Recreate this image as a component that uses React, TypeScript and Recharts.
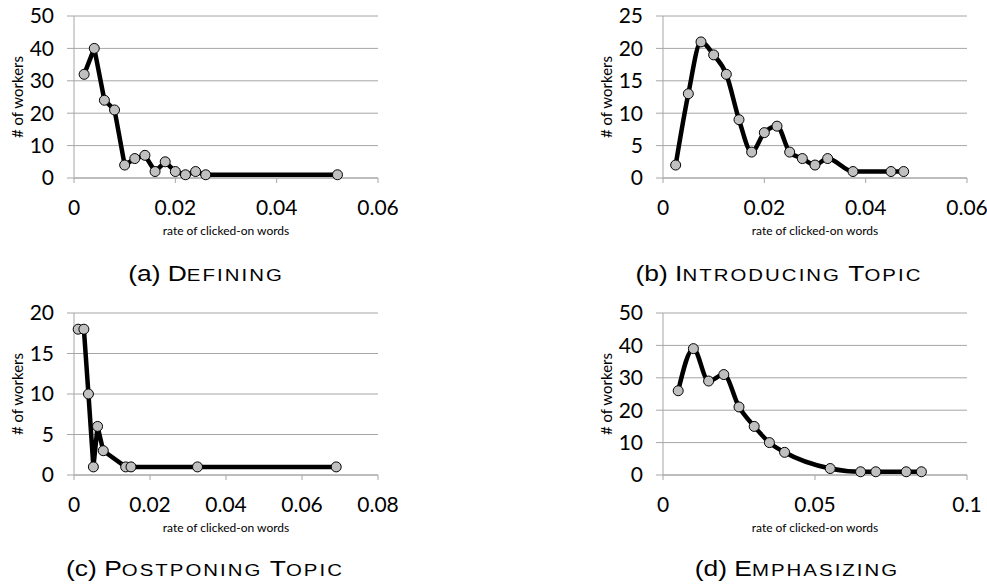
import React from 'react';
import { LineChart, Line, XAxis, YAxis, CartesianGrid } from 'recharts';

// (a) Defining
const defX = [0.002, 0.004, 0.006, 0.008, 0.010, 0.012, 0.014, 0.016, 0.018, 0.020, 0.022, 0.024, 0.026, 0.052];
const defY = [32, 40, 24, 21, 4, 6, 7, 2, 5, 2, 1, 2, 1, 1];
const defXTicks = [0, 0.02, 0.04, 0.06];
const defYTicks = [0, 10, 20, 30, 40, 50];

// (b) Introducing topic
const introX = [0.0025, 0.005, 0.0075, 0.010, 0.0125, 0.015, 0.0175, 0.020, 0.0225, 0.025, 0.0275, 0.030, 0.0325, 0.0375, 0.045, 0.0475];
const introY = [2, 13, 21, 19, 16, 9, 4, 7, 8, 4, 3, 2, 3, 1, 1, 1];
const introXTicks = [0, 0.02, 0.04, 0.06];
const introYTicks = [0, 5, 10, 15, 20, 25];

// (c) Postponing topic
const postX = [0.0011, 0.0026, 0.0038, 0.0051, 0.0062, 0.0077, 0.0136, 0.015, 0.0325, 0.069];
const postY = [18, 18, 10, 1, 6, 3, 1, 1, 1, 1];
const postXTicks = [0, 0.02, 0.04, 0.06, 0.08];
const postYTicks = [0, 5, 10, 15, 20];

// (d) Emphasizing
const empX = [0.005, 0.010, 0.015, 0.020, 0.025, 0.030, 0.035, 0.040, 0.055, 0.065, 0.070, 0.080, 0.085];
const empY = [26, 39, 29, 31, 21, 15, 10, 7, 2, 1, 1, 1, 1];
const empXTicks = [0, 0.05, 0.1];
const empYTicks = [0, 10, 20, 30, 40, 50];

const xTitle = 'rate of clicked-on words';
const yTitle = '# of workers';

const AXIS = '#a6a6a6';
const NUM_FONT = 'Lato, "Open Sans", sans-serif';

type PanelProps = {
  xs: number[];
  ys: number[];
  xTicks: number[];
  yTicks: number[];
  curve: 'linear' | 'monotone';
  left: number;
  top: number;
};

const W = 398;
const H = 245;

function Panel({ xs, ys, xTicks, yTicks, curve, left, top }: PanelProps) {
  const data = xs.map((x, i) => ({ x, y: ys[i] }));
  const xMax = xTicks[xTicks.length - 1];
  const yMax = yTicks[yTicks.length - 1];
  const yLabel = (props: any) => {
    const vb = props.viewBox || {};
    const cx = vb.x + 3;
    const cy = vb.y + vb.height / 2;
    return (
      <text
        x={cx}
        y={cy}
        transform={`rotate(-90, ${cx}, ${cy})`}
        textAnchor="middle"
        dominantBaseline="central"
        fontFamily={NUM_FONT}
        fontSize={15}
        fill="#000"
      >
        {yTitle}
      </text>
    );
  };
  const xLabel = (props: any) => {
    const vb = props.viewBox || {};
    return (
      <text
        x={vb.x + vb.width / 2}
        y={vb.y + 57}
        textAnchor="middle"
        fontFamily={NUM_FONT}
        fontSize={12}
        fill="#000"
      >
        {xTitle}
      </text>
    );
  };
  return (
    <div style={{ position: 'absolute', left, top, width: W, height: H }}>
      <LineChart width={W} height={H} data={data} margin={{ top: 16, right: 20, bottom: 7, left: 14 }}>
        <CartesianGrid vertical={false} stroke={AXIS} strokeWidth={1} />
        <XAxis
          type="number"
          dataKey="x"
          domain={[0, xMax]}
          ticks={xTicks}
          interval={0}
          height={60}
          tickSize={5}
          tickMargin={17}
          axisLine={{ stroke: AXIS }}
          tickLine={{ stroke: AXIS }}
          tick={{ fontFamily: NUM_FONT, fontSize: 21, fill: '#000' }}
          label={xLabel}
        />
        <YAxis
          type="number"
          domain={[0, yMax]}
          ticks={yTicks}
          interval={0}
          width={60}
          tickSize={7}
          tickMargin={13}
          axisLine={{ stroke: AXIS }}
          tickLine={{ stroke: AXIS }}
          tick={{ fontFamily: NUM_FONT, fontSize: 21, fill: '#000' }}
          label={yLabel}
        />
        <Line
          type={curve}
          dataKey="y"
          stroke="#000"
          strokeWidth={4.5}
          strokeLinejoin="round"
          dot={{ r: 5, fill: '#c0c0c0', stroke: '#000', strokeWidth: 1 }}
          isAnimationActive={false}
        />
      </LineChart>
    </div>
  );
}

const captions = [
  { label: '(a) ', parts: [['D', 'EFINING']], cx: 206, y: 281 },
  { label: '(b) ', parts: [['I', 'NTRODUCING'], ['T', 'OPIC']], cx: 779, y: 281 },
  { label: '(c) ', parts: [['P', 'OSTPONING'], ['T', 'OPIC']], cx: 205, y: 576 },
  { label: '(d) ', parts: [['E', 'MPHASIZING']], cx: 797, y: 576 },
];

function Caption({ label, parts, cx, y }: { label: string; parts: string[][]; cx: number; y: number }) {
  return (
    <text
      transform={`translate(${cx}, ${y}) scale(1.2, 1)`}
      x={0}
      y={0}
      textAnchor="middle"
      fontFamily='"Liberation Sans", Arial, sans-serif'
      fill="#000"
    >
      <tspan fontSize={22}>{label}</tspan>
      {parts.map((p, i) => (
        <React.Fragment key={i}>
          {i > 0 ? <tspan fontSize={22}> </tspan> : null}
          <tspan fontSize={22}>{p[0]}</tspan>
          <tspan fontSize={17} letterSpacing={1.7}>{p[1]}</tspan>
        </React.Fragment>
      ))}
    </text>
  );
}

export default function App() {
  return (
    <div style={{ position: 'absolute', left: 0, top: 0, width: 987, height: 587, overflow: 'hidden', background: '#fff' }}>
      <Panel xs={defX} ys={defY} xTicks={defXTicks} yTicks={defYTicks} curve="linear" left={0} top={0} />
      <Panel xs={introX} ys={introY} xTicks={introXTicks} yTicks={introYTicks} curve="monotone" left={589} top={0} />
      <Panel xs={postX} ys={postY} xTicks={postXTicks} yTicks={postYTicks} curve="linear" left={0} top={297} />
      <Panel xs={empX} ys={empY} xTicks={empXTicks} yTicks={empYTicks} curve="monotone" left={589} top={297} />
      <svg width={987} height={587} style={{ position: 'absolute', left: 0, top: 0, pointerEvents: 'none' }}>
        {captions.map((c, i) => (
          <Caption key={i} label={c.label} parts={c.parts} cx={c.cx} y={c.y} />
        ))}
      </svg>
    </div>
  );
}
